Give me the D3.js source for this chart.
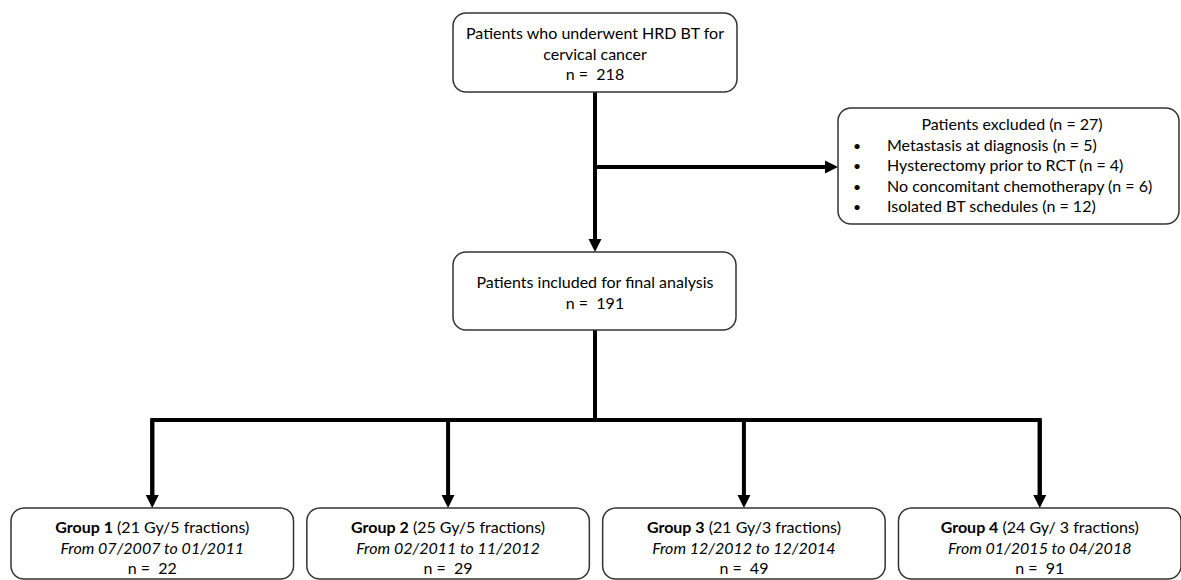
<!DOCTYPE html>
<html>
<head>
<meta charset="utf-8">
<script src="https://cdn.jsdelivr.net/npm/d3@7"></script>
<style>
  body { margin: 0; background: #fff; }
  svg text { font-family: Lato, "Open Sans", sans-serif; fill: #000; white-space: pre; }
</style>
</head>
<body>
<svg id="flow" width="1181" height="580"></svg>
<script>
// flow counts
var totalLabel = ["Patients who underwent HRD BT for", "cervical cancer"];
var totalN = 218;
var includedLabel = ["Patients included for final analysis"];
var includedN = 191;
var excludedN = 27;
var exclusionReasons = ["Metastasis at diagnosis", "Hysterectomy prior to RCT", "No concomitant chemotherapy", "Isolated BT schedules"];
var exclusionCounts = [5, 4, 6, 12];

// groups
var groupNames = ["Group 1", "Group 2", "Group 3", "Group 4"];
var groupDoses = ["(21 Gy/5 fractions)", "(25 Gy/5 fractions)", "(21 Gy/3 fractions)", "(24 Gy/ 3 fractions)"];
var groupPeriods = ["From 07/2007 to 01/2011", "From 02/2011 to 11/2012", "From 12/2012 to 12/2014", "From 01/2015 to 04/2018"];
var groupCounts = [22, 29, 49, 91];

var svg = d3.select('#flow');

var x = d3.scaleBand()
    .domain(groupNames)
    .range([11, 1181])
    .paddingInner(0.045)
;

var lineH = 20.5;
var arrowW = 6.5, arrowL = 13;

function box(x0, y0, w, h) {
    svg.append('rect')
        .attr('x', x0).attr('y', y0)
        .attr('width', w).attr('height', h)
        .attr('rx', 13).attr('ry', 13)
        .attr('fill', '#fff')
        .attr('stroke', '#333')
        .attr('stroke-width', 1.5)
    ;
}

function lines(cx, y0, rows, anchor) {
    var t = svg.append('text')
        .attr('text-anchor', anchor || 'middle')
        .style('font-size', '16px')
    ;
    rows.forEach(function(r, i) {
        t.append('tspan')
            .attr('x', cx)
            .attr('y', y0 + i * lineH)
            .text(r)
        ;
    });
    return t;
}

function connector(points) {
    svg.append('path')
        .attr('d', d3.line()(points))
        .attr('fill', 'none')
        .attr('stroke', '#000')
        .attr('stroke-width', 4)
        .attr('stroke-linejoin', 'miter')
    ;
}

function arrowDown(cx, tipY) {
    svg.append('path')
        .attr('d', d3.line()([[cx - arrowW, tipY - arrowL], [cx + arrowW, tipY - arrowL], [cx, tipY]]) + 'Z')
        .attr('fill', '#000')
    ;
}

function arrowRight(tipX, cy) {
    svg.append('path')
        .attr('d', d3.line()([[tipX - arrowL, cy - arrowW], [tipX - arrowL, cy + arrowW], [tipX, cy]]) + 'Z')
        .attr('fill', '#000')
    ;
}

var midX = 595;
var barY = 420;

// connectors
connector([[midX, 92], [midX, 240]]);
arrowDown(midX, 252);
connector([[midX, 167], [825, 167]]);
arrowRight(838, 167);
connector([[midX, 330], [midX, barY]]);
connector([[x(groupNames[0]) + x.bandwidth() / 2, 496], [x(groupNames[0]) + x.bandwidth() / 2, barY], [x(groupNames[3]) + x.bandwidth() / 2, barY], [x(groupNames[3]) + x.bandwidth() / 2, 496]]);
groupNames.forEach(function(g) {
    var cx = x(g) + x.bandwidth() / 2;
    connector([[cx, barY], [cx, 496]]);
    arrowDown(cx, 508);
});

// top box
box(453, 13, 284, 79);
lines(midX, 39, totalLabel.concat(["n =  " + totalN]));

// included box
box(453, 252, 283, 78);
lines(midX, 288, includedLabel.concat(["n =  " + includedN]));

// exclusion box
box(838, 108, 341, 116);
lines(1012, 130, ["Patients excluded (n = " + excludedN + ")"]);
var reasons = svg.append('g')
    .selectAll('g')
    .data(exclusionReasons)
    .enter()
    .append('g')
;
reasons.append('text')
    .attr('x', 857)
    .attr('y', function(d, i) { return 130 + (i + 1) * lineH; })
    .attr('text-anchor', 'middle')
    .style('font-size', '14px')
    .text('\u2022')
;
reasons.append('text')
    .attr('x', 887)
    .attr('y', function(d, i) { return 130 + (i + 1) * lineH; })
    .style('font-size', '16px')
    .text(function(d, i) { return d + ' (n = ' + exclusionCounts[i] + ')'; })
;

// group boxes
var groups = svg.append('g')
    .selectAll('g')
    .data(groupNames)
    .enter()
    .append('g')
;
groups.append('rect')
    .attr('x', function(d) { return x(d); })
    .attr('y', 508)
    .attr('width', x.bandwidth())
    .attr('height', 71)
    .attr('rx', 13).attr('ry', 13)
    .attr('fill', '#fff')
    .attr('stroke', '#333')
    .attr('stroke-width', 1.5)
;
var title = groups.append('text')
    .attr('x', function(d) { return x(d) + x.bandwidth() / 2; })
    .attr('y', 533)
    .attr('text-anchor', 'middle')
    .style('font-size', '16px')
;
title.append('tspan')
    .style('font-weight', 'bold')
    .text(function(d) { return d; })
;
title.append('tspan')
    .text(function(d, i) { return ' ' + groupDoses[i]; })
;
groups.append('text')
    .attr('x', function(d) { return x(d) + x.bandwidth() / 2; })
    .attr('y', 533 + lineH)
    .attr('text-anchor', 'middle')
    .style('font-size', '16px')
    .style('font-style', 'italic')
    .text(function(d, i) { return groupPeriods[i]; })
;
groups.append('text')
    .attr('x', function(d) { return x(d) + x.bandwidth() / 2; })
    .attr('y', 533 + 2 * lineH)
    .attr('text-anchor', 'middle')
    .style('font-size', '16px')
    .text(function(d, i) { return 'n =  ' + groupCounts[i]; })
;
</script>
</body>
</html>
